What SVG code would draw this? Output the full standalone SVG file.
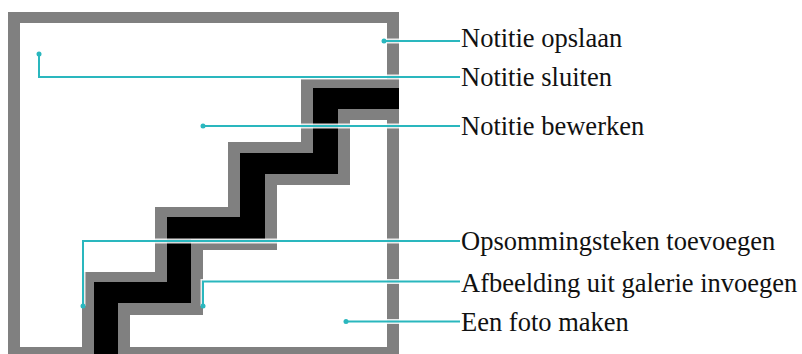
<svg xmlns="http://www.w3.org/2000/svg" width="802" height="354" viewBox="0 0 802 354">
<style>
.lbl{font-family:"Liberation Serif","Times New Roman",serif;font-size:26.5px;fill:#111}
.halo{fill:none;stroke:#fff;stroke-width:5;stroke-opacity:0.85}
.lead{fill:none;stroke:#2AB7BE;stroke-width:2}
.dot{fill:#2AB7BE}
</style>
<rect width="802" height="354" fill="#fff"/>
<g id="picture">
<rect x="8" y="12" width="391" height="350" fill="#808080"/>
<rect x="20" y="23" width="367" height="324" fill="#fff"/>
<polygon fill="#808080" points="399,79 301,79 301,142 228,142 228,207 155,207 155,272 82,272 82,360 130,360 130,315 203,315 203,250 277,250 277,185 350,185 350,120 399,120"/>
<polygon fill="#000" points="399,88 313,88 313,153 240,153 240,217 167,217 167,282 94,282 94,360 118,360 118,303 191,303 191,239 265,239 265,174 338,174 338,109 399,109"/>
</g>
<g id="connectors">
<path class="halo" d="M384,41H460"/>
<path class="halo" d="M39,54V77H460"/>
<path class="halo" d="M203,126H460"/>
<path class="halo" d="M83,306V241H460"/>
<path class="halo" d="M203,306V281.5H460"/>
<path class="halo" d="M346,321.5H460"/>
<path class="lead" d="M384,41H460"/>
<path class="lead" d="M39,54V77H460"/>
<path class="lead" d="M203,126H460"/>
<path class="lead" d="M83,306V241H460"/>
<path class="lead" d="M203,306V281.5H460"/>
<path class="lead" d="M346,321.5H460"/>
<circle class="dot" cx="384" cy="41" r="2.5"/>
<circle class="dot" cx="39" cy="54" r="2.5"/>
<circle class="dot" cx="203" cy="126" r="2.5"/>
<circle class="dot" cx="83" cy="306" r="2.5"/>
<circle class="dot" cx="203" cy="306" r="2.5"/>
<circle class="dot" cx="346" cy="321.5" r="2.5"/>
</g>
<g id="label-opslaan"><text class="lbl" x="461" y="46.5">Notitie opslaan</text></g>
<g id="label-sluiten"><text class="lbl" x="461" y="85.5">Notitie sluiten</text></g>
<g id="label-bewerken"><text class="lbl" x="461" y="134.5">Notitie bewerken</text></g>
<g id="label-opsomming"><text class="lbl" x="461" y="249.5">Opsommingsteken toevoegen</text></g>
<g id="label-afbeelding"><text class="lbl" x="461" y="291.5">Afbeelding uit galerie invoegen</text></g>
<g id="label-foto"><text class="lbl" x="461" y="330.5">Een foto maken</text></g>
</svg>
